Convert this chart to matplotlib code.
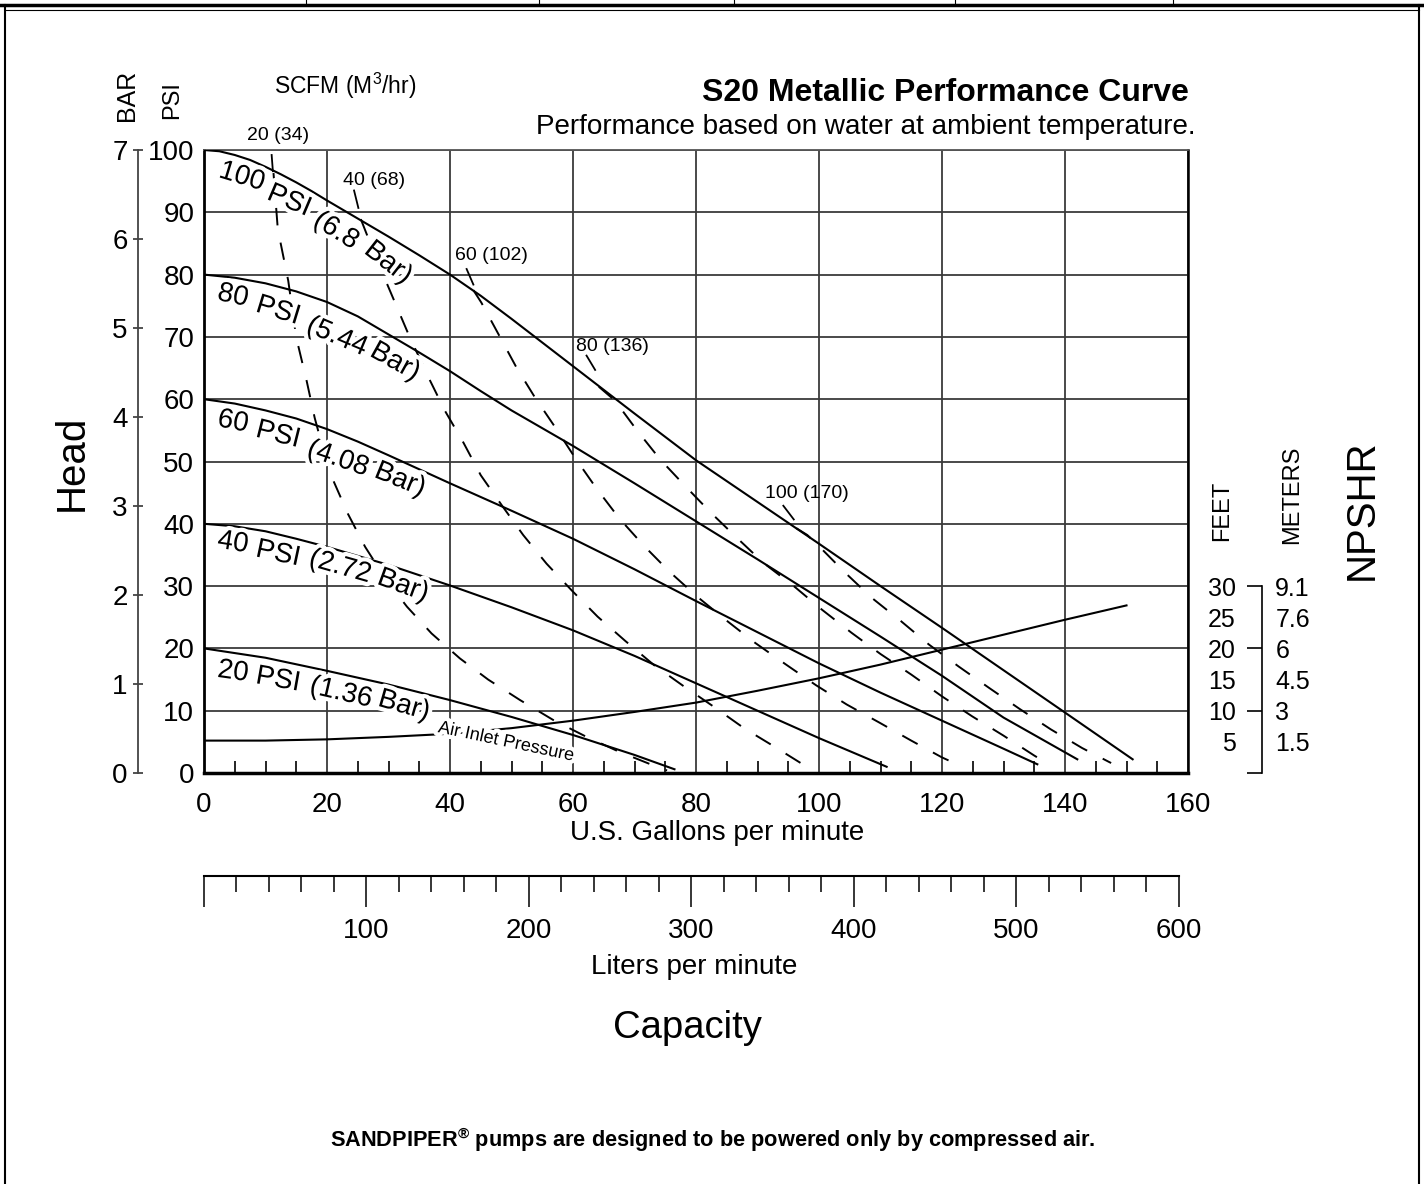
import numpy as np
import matplotlib
matplotlib.use('Agg')
import matplotlib.pyplot as plt
import matplotlib.patheffects as pe
from matplotlib.lines import Line2D

plt.rcParams['font.family'] = ['Liberation Sans', 'DejaVu Sans']
plt.rcParams['mathtext.fontset'] = 'custom'
plt.rcParams['mathtext.rm'] = 'Liberation Sans'

# head (psi) vs capacity (US gpm) for each air inlet pressure
gpm_100 = [0, 2.5, 5, 7.5, 10, 12.5, 15, 17.5, 20, 25, 30, 35, 40, 45, 50, 60, 70, 80, 90, 100, 110, 120, 130, 140, 151]
psi_100 = [100, 99.8, 99.2, 98.4, 97.3, 96.1, 94.8, 93.4, 91.9, 89.0, 86.1, 83.1, 80, 76.6, 72.9, 65.3, 57.7, 50.2, 43.5, 36.8, 30, 23.3, 16.5, 9.7, 2.2]
gpm_80 = [0, 5, 10, 15, 20, 25, 30, 35, 40, 45, 50, 60, 70, 80, 90, 100, 110, 120, 130, 142]
psi_80 = [80, 79.5, 78.6, 77.3, 75.6, 73.3, 70.4, 67.5, 64.5, 61.3, 58.2, 52.5, 46.5, 40.4, 34.3, 28.1, 21.9, 15.6, 8.9, 2.2]
gpm_60 = [0, 5, 10, 15, 20, 25, 30, 40, 50, 60, 70, 80, 90, 100, 110, 120, 130, 135.5]
psi_60 = [60, 59.3, 58.2, 56.9, 55.2, 53.2, 51.0, 46.5, 42.1, 37.6, 32.7, 27.6, 22.6, 17.6, 12.9, 8.4, 3.9, 1.4]
gpm_40 = [0, 5, 10, 15, 20, 30, 40, 50, 60, 70, 80, 90, 100, 111]
psi_40 = [40, 39.6, 38.8, 37.6, 36.3, 33.4, 30.1, 26.6, 22.9, 18.8, 14.4, 10, 5.6, 1.0]
gpm_20 = [0, 10, 20, 30, 40, 50, 60, 70, 76.5]
psi_20 = [20, 18.5, 16.4, 14.2, 11.7, 9, 6.1, 2.9, 0.6]

# NPSHR in feet (same numeric scale as head)
gpm_np = [0, 10, 20, 30, 40, 50, 60, 70, 80, 90, 100, 110, 120, 130, 140, 150]
ft_np = [5.2, 5.2, 5.4, 5.8, 6.3, 7.2, 8.4, 9.8, 11.3, 13.2, 15.2, 17.4, 19.8, 22.2, 24.6, 26.9]

# constant air consumption lines (SCFM)
gpm_s20 = [11.3, 12.0, 13.7, 15.0, 16.7, 18.0, 19.5, 21.0, 23.4, 26.2, 29.5, 33.0, 37.0, 41.6, 46.2, 51.4, 56.8, 62.0, 67.3, 72.6, 75.3]
psi_s20 = [96.3, 87.3, 79.0, 69.9, 62.9, 57.0, 51.5, 47.0, 41.6, 36.3, 31.2, 26.7, 22.4, 18.4, 15.0, 11.7, 8.5, 5.9, 3.5, 1.4, 0.4]
gpm_s40 = [25.5, 28.0, 30.5, 33.3, 36.5, 39.2, 42.2, 45.0, 48.4, 51.9, 55.7, 59.8, 64.0, 68.5, 73.2, 77.9, 82.8, 87.8, 92.8, 98.0, 98.6]
psi_s40 = [88.9, 82.6, 76.8, 70.3, 63.5, 58.1, 53.0, 47.8, 43.0, 38.2, 33.6, 29.3, 25.1, 21.2, 17.3, 14.0, 10.7, 7.2, 4.2, 1.0, 0.7]
gpm_s60 = [43.8, 45.1, 47.9, 50.8, 53.8, 57.1, 60.4, 63.8, 67.5, 71.5, 75.7, 80.2, 84.8, 89.6, 94.5, 99.5, 104.5, 109.8, 115.0, 120.0, 122.0]
psi_s60 = [77.5, 75.5, 70.4, 65.1, 60.3, 55.5, 50.5, 45.7, 40.9, 36.5, 32.3, 28.3, 24.6, 20.9, 17.5, 14.1, 11.0, 8.1, 5.2, 2.5, 1.6]
gpm_s80 = [64.2, 66.8, 70.4, 74.2, 78.3, 82.5, 86.7, 91.0, 95.9, 100.5, 105.3, 110.0, 115.0, 120.0, 124.9, 130.0, 135.0, 136.0]
psi_s80 = [62.0, 59.8, 55.0, 50.3, 46.0, 41.7, 37.7, 33.7, 30.0, 26.2, 22.5, 19.1, 15.8, 12.3, 9.1, 6.0, 2.8, 2.2]
gpm_s100 = [96.3, 98.1, 100.0, 104.2, 108.6, 113.3, 117.9, 122.7, 127.6, 132.6, 137.7, 142.8, 147.5]
psi_s100 = [39.3, 38.2, 36.4, 32.2, 28.1, 24.4, 20.6, 17.1, 13.7, 10.3, 7.0, 4.0, 1.6]

scfm_labels = ['20 (34)', '40 (68)', '60 (102)', '80 (136)', '100 (170)']
# short leader ticks from each SCFM label down to its line
lead_x0 = [11.0, 24.4, 42.7, 62.2, 94.2]
lead_y0 = [99.2, 93.5, 80.9, 67.0, 42.9]
lead_x1 = [11.2, 25.1, 43.8, 63.6, 95.9]
lead_y1 = [96.6, 90.7, 78.4, 64.7, 40.7]

bar_ticks = [0, 1, 2, 3, 4, 5, 6, 7]
feet_ticks = [30, 25, 20, 15, 10, 5]
meter_labels = ['9.1', '7.6', '6', '4.5', '3', '1.5']
liter_ticks = [0, 100, 200, 300, 400, 500, 600]
LPM_PER_GPM = 3.785

W, H = 1424, 1184


def fx(px):
    return px / W


def fy(py):
    return 1 - py / H


fig = plt.figure(figsize=(W / 100, H / 100), dpi=100)

x0, x1, y0, y1 = 204, 1188, 773, 150
ax = fig.add_axes([fx(x0), fy(y0), fx(x1) - fx(x0), fy(y1) - fy(y0)])
ax.set_xlim(0, 160)
ax.set_ylim(0, 100)
ax.set_xticks(range(0, 161, 20))
ax.set_yticks(range(0, 101, 10))
ax.set_xticks(np.arange(0, 161, 5), minor=True)
ax.grid(True, color='#3a3a3a', lw=1.3)
ax.tick_params(which='major', length=0, labelsize=20)
ax.tick_params(axis='x', which='major', pad=14)
ax.tick_params(axis='y', which='major', pad=7)
ax.tick_params(axis='x', which='minor', direction='in', length=9, width=1.2)
ax.spines['left'].set_linewidth(2)
ax.spines['bottom'].set_linewidth(2.5)
ax.spines['right'].set_linewidth(1.8)
ax.spines['top'].set_color('#555555')
ax.spines['top'].set_linewidth(1.3)

for g, p in [(gpm_100, psi_100), (gpm_80, psi_80), (gpm_60, psi_60),
             (gpm_40, psi_40), (gpm_20, psi_20), (gpm_np, ft_np)]:
    ax.plot(g, p, color='black', lw=1.5, zorder=3)

for g, p in [(gpm_s20, psi_s20), (gpm_s40, psi_s40), (gpm_s60, psi_s60),
             (gpm_s80, psi_s80), (gpm_s100, psi_s100)]:
    ax.plot(g, p, color='black', lw=1.4, ls=(0, (9, 9)), zorder=3)

for i in range(len(scfm_labels)):
    ax.plot([lead_x0[i], lead_x1[i]], [lead_y0[i], lead_y1[i]], color='black', lw=1.3, zorder=3)

scfm_pos = [(12.0, 102.4), (27.6, 95.1), (46.7, 83.0), (66.4, 68.4), (98.0, 44.8)]
for s, (x, y) in zip(scfm_labels, scfm_pos):
    ax.text(x, y, s, fontsize=14, ha='center', va='center', clip_on=False, zorder=5)

# curve labels, word by word so they bend with the curves (pixel centres)
halo = [pe.withStroke(linewidth=6, foreground='white')]
curve_words = [
    [('100', 242, 177, -17), ('PSI', 289, 201, -23), ('(6.8', 336, 231, -32), ('Bar)', 388, 263, -38)],
    [('80', 233, 296, -12), ('PSI', 278, 311, -17), ('(5.44', 337, 337, -23), ('Bar)', 395, 362, -29)],
    [('60', 233, 422, -11), ('PSI', 278, 435, -14), ('(4.08', 338, 459, -19), ('Bar)', 400, 480, -22)],
    [('40', 233, 543, -9), ('PSI', 278, 554, -12), ('(2.72', 340, 567, -16), ('Bar)', 403, 586, -20)],
    [('20', 233, 672, -8), ('PSI', 278, 680, -10), ('(1.36', 341, 693, -13), ('Bar)', 404, 706, -16)],
]
for words in curve_words:
    for s, px, py, r in words:
        fig.text(fx(px), fy(py), s, fontsize=20, rotation=r, rotation_mode='anchor',
                 ha='center', va='center', path_effects=halo, zorder=5)
fig.text(fx(506), fy(742), 'Air Inlet Pressure', fontsize=13, rotation=-12,
         rotation_mode='anchor', ha='center', va='center', path_effects=halo, zorder=5)

# BAR scale
axb = fig.add_axes([fx(138), fy(y0), 1e-4, fy(y1) - fy(y0)])
axb.set_ylim(0, 7)
axb.patch.set_visible(False)
for k in ['top', 'right', 'bottom']:
    axb.spines[k].set_visible(False)
axb.spines['left'].set_linewidth(1.3)
axb.spines['left'].set_color('#444444')
axb.set_xticks([])
axb.set_yticks(bar_ticks)
axb.tick_params(axis='y', direction='inout', length=7, width=1.3, color='#444444', labelsize=20, pad=4)

# NPSHR scale
axn = fig.add_axes([fx(1262), fy(y0), 1e-4, fy(y1) - fy(y0)])
axn.set_ylim(0, 100)
axn.patch.set_visible(False)
for k in ['top', 'right', 'bottom']:
    axn.spines[k].set_visible(False)
axn.spines['left'].set_bounds(0, 30)
axn.spines['left'].set_linewidth(1.2)
axn.set_xticks([])
axn.yaxis.remove_overlapping_locs = False
axn.set_yticks([0, 10, 20, 30])
axn.set_yticklabels([])
axn.set_yticks(feet_ticks, minor=True)
axn.set_yticklabels([str(v) for v in feet_ticks], minor=True)
axn.tick_params(axis='y', which='major', direction='out', length=11, width=1.2)
axn.tick_params(axis='y', which='minor', length=0, pad=19, labelsize=18)
axm = axn.twinx()
axm.set_ylim(0, 100)
for k in axm.spines:
    axm.spines[k].set_visible(False)
axm.set_yticks(feet_ticks)
axm.set_yticklabels(meter_labels)
axm.tick_params(axis='y', length=0, pad=9.5, labelsize=18)

# liters scale
axl = fig.add_axes([fx(x0), fy(876), fx(x1) - fx(x0), 1e-4])
axl.set_xlim(0, 160 * LPM_PER_GPM)
axl.patch.set_visible(False)
for k in ['top', 'right', 'left']:
    axl.spines[k].set_visible(False)
axl.spines['bottom'].set_bounds(0, 600)
axl.spines['bottom'].set_linewidth(1.5)
axl.set_yticks([])
axl.set_xticks(liter_ticks)
axl.set_xticklabels([''] + [str(v) for v in liter_ticks[1:]])
axl.set_xticks(np.arange(0, 601, 20), minor=True)
axl.tick_params(axis='x', which='major', direction='out', length=22, width=1.1, labelsize=20, pad=8)
axl.tick_params(axis='x', which='minor', direction='out', length=11.5, width=1.1)

# texts
fig.text(fx(1189), fy(93), 'S20 Metallic Performance Curve', ha='right', va='center',
         fontsize=23, weight='bold')
fig.text(fx(1195), fy(127), 'Performance based on water at ambient temperature.',
         ha='right', va='center', fontsize=20.1)
fig.text(fx(345), fy(86), r'SCFM (M$^\mathregular{3}$/hr)', ha='center', va='center', fontsize=16.5)
fig.text(fx(127), fy(95), 'BAR', rotation=90, ha='center', va='center', fontsize=18)
fig.text(fx(172), fy(100), 'PSI', rotation=90, ha='center', va='center', fontsize=17)
fig.text(fx(72), fy(463), 'Head', rotation=90, ha='center', va='center', fontsize=29)
fig.text(fx(1362), fy(510), 'NPSHR', rotation=90, ha='center', va='center', fontsize=29)
fig.text(fx(1222), fy(511), 'FEET', rotation=90, ha='center', va='center', fontsize=17)
fig.text(fx(1292), fy(495), 'METERS', rotation=90, ha='center', va='center', fontsize=17)
fig.text(fx(717), fy(833), 'U.S. Gallons per minute', ha='center', va='center', fontsize=20)
fig.text(fx(694), fy(967), 'Liters per minute', ha='center', va='center', fontsize=20)
fig.text(fx(687), fy(1028), 'Capacity', ha='center', va='center', fontsize=27.5)
fig.text(fx(713), fy(1140), r'SANDPIPER$^\mathregular{®}$ pumps are designed to be powered only by compressed air.',
         ha='center', va='center', fontsize=15.7, weight='bold')

# page frame
fig.add_artist(Line2D([fx(5), fx(5)], [0, fy(5)], color='black', lw=1.5))
fig.add_artist(Line2D([fx(1419), fx(1419)], [0, fy(5)], color='black', lw=1.5))
fig.add_artist(Line2D([0, 1], [fy(5), fy(5)], color='black', lw=2.5))
fig.add_artist(Line2D([fx(5), fx(1419)], [fy(9.5), fy(9.5)], color='black', lw=0.8))
for px in [306, 539, 734, 955, 1173]:
    fig.add_artist(Line2D([fx(px), fx(px)], [fy(5), 1], color='black', lw=0.8))

fig.savefig('out.png', dpi=100)
